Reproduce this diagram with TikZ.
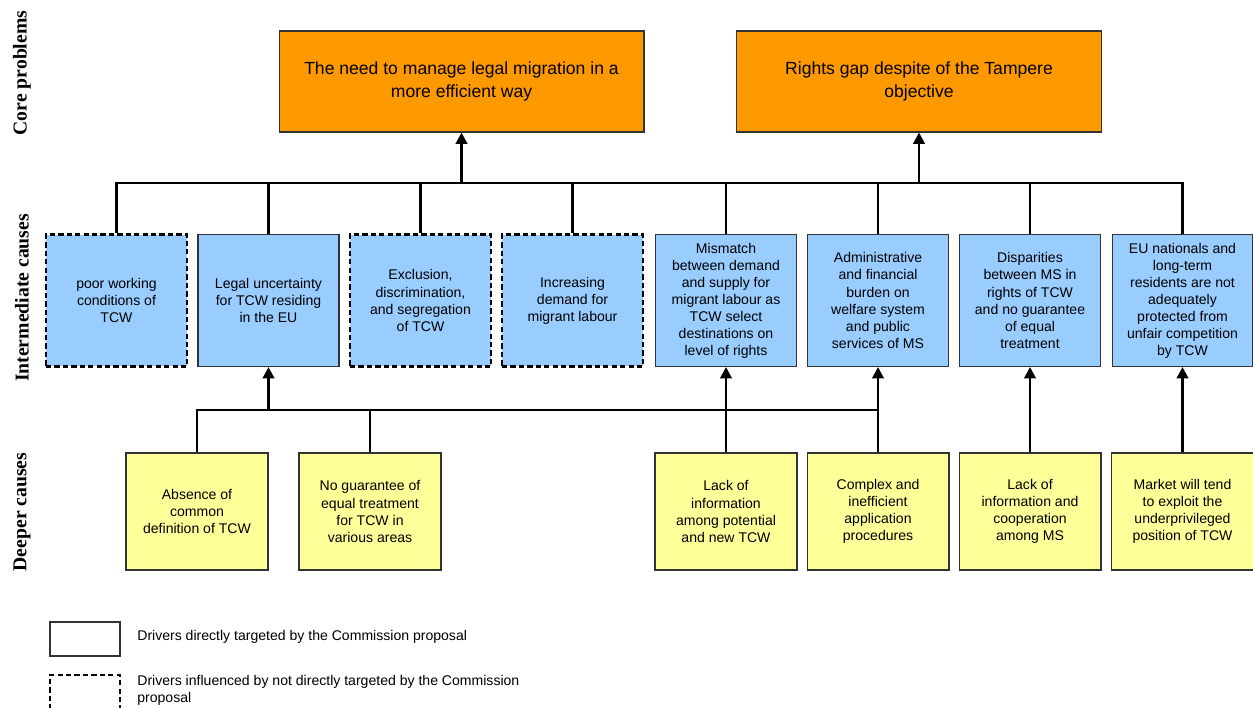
\documentclass[tikz,border=0pt]{standalone}
\usepackage{fontspec}
\setmainfont{Liberation Sans}
\newfontfamily\rowfont{Liberation Serif}
\usetikzlibrary{arrows.meta}
\definecolor{coreorange}{HTML}{FF9900}
\definecolor{midblue}{HTML}{99CCFF}
\definecolor{deepyellow}{HTML}{FFFF99}

\begin{document}
\begin{tikzpicture}[x=0.02cm, y=-0.02cm,
    core/.style={draw=black!80, line width=0.6pt, fill=coreorange, minimum width=7.3cm, minimum height=2.02cm, align=center, inner sep=0pt, font=\fontsize{10}{13}\selectfont},
    mid/.style={draw=black!80, line width=0.6pt, fill=midblue, minimum width=2.82cm, minimum height=2.64cm, align=center, inner sep=0pt, font=\fontsize{8}{9.7}\selectfont},
    middash/.style={mid, draw=black, line width=1.3pt, dash pattern=on 3pt off 1.8pt},
    deep/.style={mid, fill=deepyellow, minimum width=2.84cm, minimum height=2.34cm},
    rowlabel/.style={rotate=90, font=\rowfont\bfseries\fontsize{11.2}{13}\selectfont},
    legtext/.style={align=left, inner sep=0pt, font=\fontsize{8}{9.7}\selectfont},
    conn/.style={line width=1.6pt},
    arr/.style={line width=1.6pt, -{Triangle[length=6.5pt,width=6.5pt]}}]

    \useasboundingbox (0,0) rectangle (1253,707);

    % row labels
    \node[rowlabel] at (22,73)  (LCore) {Core problems};
    \node[rowlabel] at (22,298) (LMid)  {Intermediate causes};
    \node[rowlabel] at (22,512) (LDeep) {Deeper causes};

    % core problems
    \node[core] at (461.5,81.5) (C1) {The need to manage legal migration in a\\more efficient way};
    \node[core] at (919,81.5)   (C2) {Rights gap despite of the Tampere\\objective};

    % intermediate causes
    \node[middash] at (116.5,300.5) (I1) {poor working\\conditions of\\TCW};
    \node[mid]     at (268.5,300.5) (I2) {Legal uncertainty\\for TCW residing\\in the EU};
    \node[middash] at (420.5,300.5) (I3) {Exclusion,\\discrimination,\\and segregation\\of TCW};
    \node[middash] at (572.5,300.5) (I4) {Increasing\\demand for\\migrant labour};
    \node[mid]     at (726,300.5)   (I5) {Mismatch\\between demand\\and supply for\\migrant labour as\\TCW select\\destinations on\\level of rights};
    \node[mid]     at (878,300.5)   (I6) {Administrative\\and financial\\burden on\\welfare system\\and public\\services of MS};
    \node[mid]     at (1030,300.5)  (I7) {Disparities\\between MS in\\rights of TCW\\and no guarantee\\of equal\\treatment};
    \node[mid]     at (1182.5,300.5) (I8) {EU nationals and\\long-term\\residents are not\\adequately\\protected from\\unfair competition\\by TCW};

    % deeper causes
    \node[deep] at (197,511.5)    (D1) {Absence of\\common\\definition of TCW};
    \node[deep] at (370,511.5)    (D2) {No guarantee of\\equal treatment\\for TCW in\\various areas};
    \node[deep] at (726,511.5)    (D3) {Lack of\\information\\among potential\\and new TCW};
    \node[deep] at (878,511.5)    (D4) {Complex and\\inefficient\\application\\procedures};
    \node[deep] at (1030,511.5)   (D5) {Lack of\\information and\\cooperation\\among MS};
    \node[deep] at (1182.5,511.5) (D6) {Market will tend\\to exploit the\\underprivileged\\position of TCW};

    % upper bus
    \coordinate (TB) at (0,183);
    \draw[conn] (I1.north) |- (I8.north |- TB) -- (I8.north);
    \foreach \i in {2,...,7}
        \draw[conn] (I\i.north) -- (I\i.north |- TB);
    \draw[arr] (C1.south |- TB) -- (C1.south);
    \draw[arr] (C2.south |- TB) -- (C2.south);

    % lower bus
    \coordinate (LB) at (0,410);
    \draw[conn] (D1.north) |- (I6.south |- LB);
    \draw[conn] (D2.north) -- (D2.north |- LB);
    \draw[arr] (I2.south |- LB) -- (I2.south);
    \draw[arr] (D3.north) -- (I5.south);
    \draw[arr] (D4.north) -- (I6.south);
    \draw[arr] (D5.north) -- (I7.south);
    \draw[arr] (D6.north) -- (I8.south);

    % legend
    \node[draw=black!80, line width=0.6pt, minimum width=1.4cm, minimum height=0.68cm] at (85,639) (LegSolid) {};
    \node[legtext, anchor=west] at (137,637) (LegSolidText) {Drivers directly targeted by the Commission proposal};
    \node[draw=black, line width=1.3pt, dash pattern=on 3pt off 1.8pt, minimum width=1.4cm, minimum height=1cm] at (85,700) (LegDash) {};
    \node[legtext, anchor=north west] at (137,675) (LegDashText) {Drivers influenced by not directly targeted by the Commission\\proposal};

\end{tikzpicture}
\end{document}
